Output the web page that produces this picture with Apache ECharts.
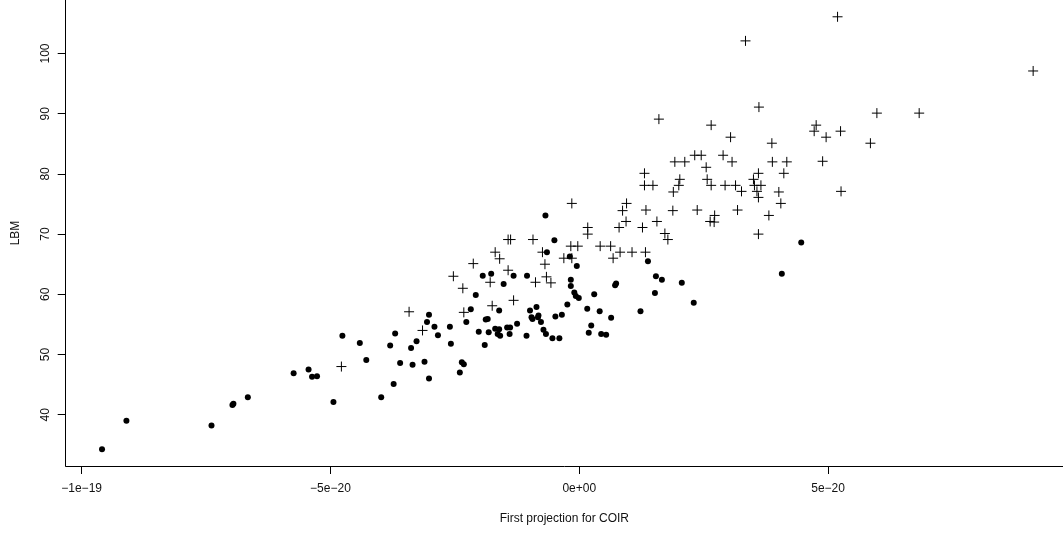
<!DOCTYPE html>
<html>
<head>
<meta charset="utf-8">
<script src="https://cdn.jsdelivr.net/npm/echarts@6/dist/echarts.min.js"></script>
<style>
  html, body { margin: 0; padding: 0; background: #fff; }
  #main { width: 1063px; height: 535px; }
</style>
</head>
<body>
<div id="main"></div>
<script>
// x values are in units of 1e-20 (first projection for COIR)
const xTicks = [-10, -5, 0, 5];
const xTickLabels = ["\u22121e\u221219", "\u22125e\u221220", "0e+00", "5e\u221220"];
const yTicks = [40, 50, 60, 70, 80, 90, 100];

// filled dots
const dotX = [-9.59, -9.10, -7.39, -6.97, -6.95, -6.66, -5.74, -5.44, -5.37, -5.27,
  -4.76, -4.94, -4.41, -4.28, -3.98, -3.80, -3.70, -3.73, -3.60, -3.38,
  -3.27, -3.35, -3.11, -3.02, -3.06, -3.02, -2.91, -2.84, -2.60, -2.58,
  -2.36, -2.32, -2.40, -2.27, -2.18, -2.08, -2.02, -1.94, -1.77, -1.88,
  -1.84, -1.90, -1.82, -1.52, -1.61, -1.69, -1.61, -1.64, -1.59, -1.45,
  -1.39, -1.40, -1.32, -1.25, -1.05, -1.06, -0.99, -0.96, -0.94, -0.86,
  -0.82, -0.83, -0.77, -0.72, -0.67, -0.65, -0.68, -0.50, -0.19, -0.05,
  -0.17, -0.17, -0.10, -0.07, -0.01, -0.24, -0.54, -0.40, -0.48, -0.35,
  0.16, 0.30, 0.41, 0.24, 0.19, 0.44, 0.54, 0.64, 0.72, 0.74,
  1.23, 1.38, 1.54, 1.66, 1.52, 2.06, 2.30, 4.07, 4.46];
const dotY = [34.25, 39.0, 38.2, 41.6, 41.8, 42.9, 46.9, 47.5, 46.3, 46.4,
  53.1, 42.1, 51.9, 49.1, 42.9, 51.5, 53.5, 45.1, 48.6, 51.1,
  52.2, 48.3, 48.8, 56.6, 55.4, 46.0, 54.6, 53.2, 54.6, 51.8,
  48.7, 48.4, 47.0, 55.4, 57.5, 59.9, 53.8, 63.1, 63.4, 55.8,
  55.9, 51.6, 53.7, 61.7, 57.3, 54.3, 54.2, 53.4, 53.1, 54.5,
  54.5, 53.4, 63.1, 55.1, 63.1, 53.1, 57.3, 56.2, 55.9, 57.9,
  56.5, 56.2, 55.4, 54.1, 53.4, 67.0, 73.1, 69.0, 66.3, 64.7,
  62.4, 61.4, 60.3, 59.7, 59.4, 58.3, 52.7, 52.7, 56.3, 56.6,
  57.6, 60.0, 57.2, 54.8, 53.6, 53.4, 53.3, 56.1, 61.5, 61.8,
  57.2, 65.5, 63.0, 62.4, 60.2, 61.9, 58.6, 63.4, 68.6];

// plus signs
const plusX = [-4.78, -3.42, -3.15, -2.53, -2.34, -2.32, -2.13, -1.79, -1.75, -1.69,
  -1.60, -1.43, -1.38, -1.43, -1.32, -0.93, -0.88, -0.74, -0.69, -0.66,
  -0.57, -0.15, -0.17, -0.03, -0.31, -0.15, 0.17, 0.17, 0.42, 0.63,
  0.68, 0.82, 1.06, 1.33, 0.80, 0.94, 0.87, 0.95, 1.27, 1.34,
  1.31, 1.31, 1.48, 1.56, 1.72, 1.78, 1.88, 1.89, 1.92, 2.12,
  2.02, 2.00, 2.32, 2.45, 2.55, 2.57, 2.65, 2.37, 2.63, 2.72,
  2.71, 2.89, 3.07, 2.93, 3.14, 3.26, 3.18, 3.50, 3.52, 3.57,
  3.60, 3.65, 3.60, 3.88, 4.17, 4.11, 4.01, 4.05, 3.81, 3.60,
  1.60, 3.34, 3.61, 2.65, 3.04, 3.87, 5.19, 9.12, 5.98, 6.83,
  4.76, 4.72, 4.96, 5.25, 5.85, 4.89, 5.26];
const plusY = [48.0, 57.1, 54.0, 63.0, 61.0, 57.0, 65.1, 62.0, 58.1, 67.0,
  65.9, 69.1, 69.1, 64.0, 59.0, 69.1, 62.0, 67.0, 65.0, 62.9,
  61.9, 75.1, 68.0, 68.0, 66.0, 66.0, 71.1, 70.0, 68.0, 68.0,
  66.0, 67.0, 67.0, 67.0, 71.1, 72.1, 73.9, 75.1, 71.1, 74.0,
  80.1, 78.1, 78.1, 72.1, 70.1, 69.1, 73.9, 77.0, 82.0, 82.0,
  79.1, 78.1, 83.1, 83.1, 81.1, 79.1, 78.1, 74.0, 72.1, 73.1,
  72.0, 83.1, 82.0, 78.1, 78.1, 77.1, 74.0, 79.1, 78.1, 77.1,
  76.1, 78.1, 80.1, 82.0, 82.0, 80.1, 77.0, 75.1, 73.1, 70.0,
  89.1, 102.1, 91.1, 88.1, 86.1, 85.1, 106.1, 97.1, 90.1, 90.1,
  88.1, 87.1, 86.1, 87.1, 85.1, 82.1, 77.1];

const zip = (xs, ys) => xs.map((x, i) => [x, ys[i]]);

const chart = echarts.init(document.getElementById("main"));

const font = "Liberation Sans, Arial, sans-serif";
const axisCommon = {
  type: "value",
  splitLine: { show: false },
  axisLine: { onZero: false, lineStyle: { color: "#000", width: 1 } },
  axisTick: { length: 8, lineStyle: { color: "#000", width: 1 } },
  nameLocation: "middle",
  nameTextStyle: { color: "#111", fontSize: 12, fontFamily: font }
};

const option = {
  animation: false,
  backgroundColor: "#fff",
  grid: { left: 65.7, right: 0, top: 0, bottom: 69 },
  xAxis: Object.assign({}, axisCommon, {
    min: -10.32,
    max: 9.72,
    name: "First projection for COIR",
    nameGap: 47,
    axisTick: Object.assign({}, axisCommon.axisTick, { customValues: xTicks }),
    axisLabel: {
      customValues: xTicks,
      margin: 17,
      color: "#111",
      fontSize: 12,
      fontFamily: font,
      formatter: v => xTickLabels[xTicks.indexOf(v)]
    }
  }),
  yAxis: Object.assign({}, axisCommon, {
    min: 31.48,
    max: 108.89,
    name: "LBM",
    nameGap: 44,
    nameRotate: 90,
    axisTick: Object.assign({}, axisCommon.axisTick, { customValues: yTicks }),
    axisLabel: {
      customValues: yTicks,
      rotate: 90,
      margin: 14,
      color: "#111",
      fontSize: 12,
      fontFamily: font
    }
  }),
  series: [
    {
      type: "scatter",
      data: zip(dotX, dotY),
      symbol: "circle",
      symbolSize: 6,
      itemStyle: { color: "#000", opacity: 1 }
    },
    {
      type: "scatter",
      data: zip(plusX, plusY),
      symbol: "path://M5,0L5,10M0,5L10,5",
      symbolSize: 10,
      itemStyle: { color: "rgba(0,0,0,0)", borderColor: "#000", borderWidth: 1, opacity: 1 }
    }
  ]
};

option && chart.setOption(option);
</script>
</body>
</html>
